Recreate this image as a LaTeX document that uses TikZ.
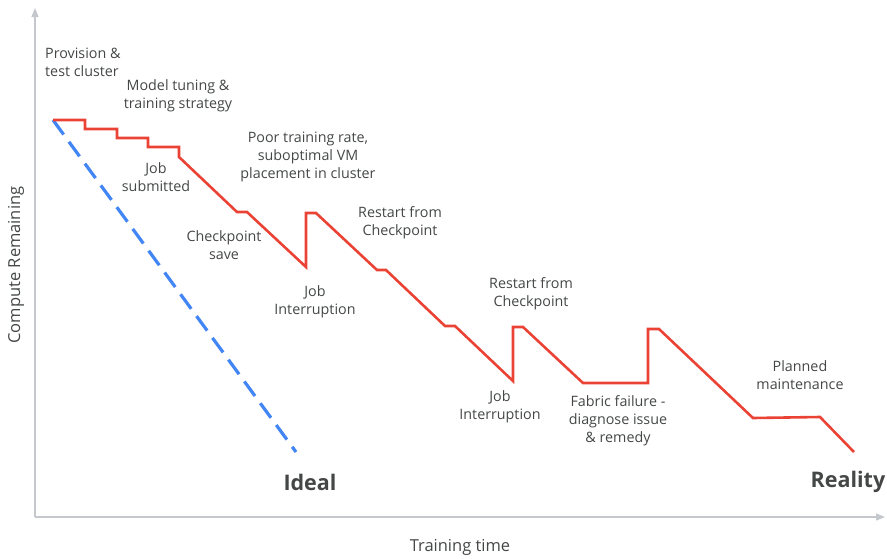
\documentclass[tikz,border=0pt]{standalone}
\usepackage{fontspec}
\setmainfont{Open Sans}
\usetikzlibrary{arrows.meta}
\definecolor{axisgray}{HTML}{C4C7CC}
\definecolor{labelgray}{HTML}{444746}
\definecolor{realred}{HTML}{EA4335}
\definecolor{idealblue}{HTML}{4285F4}
\tikzset{
  axis/.style={draw=axisgray, line width=1.3pt, -{Triangle[length=9pt,width=7pt]}},
  note/.style={text=labelgray, font=\fontsize{14.3}{18}\selectfont, align=center, inner sep=0pt},
  axislabel/.style={text=labelgray, font=\fontsize{16.5}{20}\selectfont, inner sep=0pt},
  tag/.style={text=labelgray, font=\fontsize{21.5}{24}\selectfont\bfseries, inner sep=0pt},
  reality/.style={draw=realred, line width=2.6pt, line join=miter},
  ideal/.style={draw=idealblue, line width=3.2pt, dash pattern=on 18pt off 9pt}
}
\begin{document}
\begin{tikzpicture}[x=1pt, y=-1pt]
\useasboundingbox (0,0) rectangle (887,558);
% axes
\coordinate (origin) at (35,517);
\coordinate (ytop) at (35,8);
\coordinate (xend) at (885,517);
\draw[axis] (origin) -- (ytop);
\draw[axis] (origin) -- (xend);
% ideal run
\coordinate (start) at (53,120);
\coordinate (idealend) at (296,452);
\draw[ideal] (start) -- (idealend);
% real run
\draw[reality] (start) -- (85,120) -- (85,129) -- (117,129) -- (117,138) -- (148,138) -- (148,147)
  -- (179,147) -- (179,157) -- (237,212) -- (247,212) -- (306,267) -- (306,213) -- (316,213)
  -- (377,270) -- (386,270) -- (445,326) -- (455,326) -- (513,381) -- (513,327) -- (523,327)
  -- (583,383) -- (648,383) -- (648,329) -- (659,329) -- (753,418) -- (820,417) -- (854,452);
% labels
\node[note, align=left, anchor=west] (provision) at (45,62) {Provision \&\\test cluster};
\node[note] (tuning) at (178,96) {Model tuning \&\\training strategy};
\node[note] (submitted) at (156,177) {Job\\submitted};
\node[note] (poor) at (308,157) {Poor training rate,\\suboptimal VM\\placement in cluster};
\node[note] (ckptsave) at (224,245) {Checkpoint\\save};
\node[note] (interrupt1) at (315,302) {Job\\Interruption};
\node[note] (restart1) at (400,223) {Restart from\\Checkpoint};
\node[note] (restart2) at (531,294) {Restart from\\Checkpoint};
\node[note] (interrupt2) at (500,407) {Job\\Interruption};
\node[note] (fabric) at (618,421) {Fabric failure -\\diagnose issue\\\& remedy};
\node[note] (maint) at (800,375) {Planned\\maintenance};
\node[tag] (idealtag) at (310,482) {Ideal};
\node[tag] (realitytag) at (848,482) {Reality};
\node[axislabel, rotate=90] (ylabel) at (16,265) {Compute Remaining};
\node[axislabel] (xlabel) at (460,547) {Training time};
\end{tikzpicture}
\end{document}
